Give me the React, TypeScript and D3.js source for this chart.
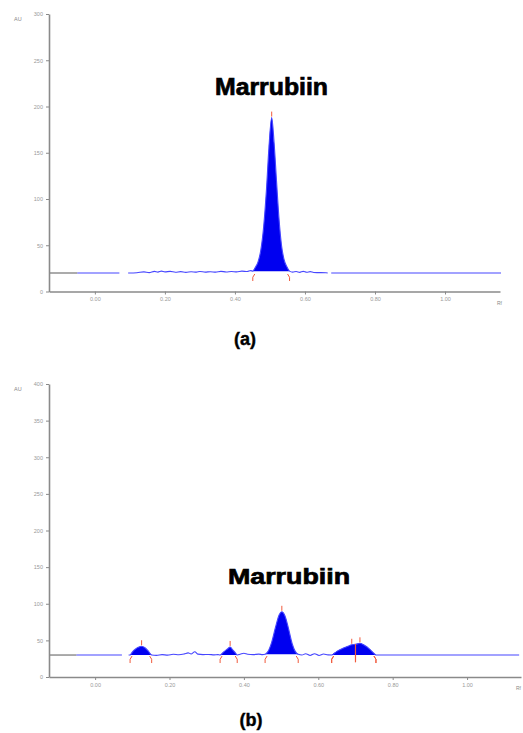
import React, { useEffect, useRef } from 'react';
import * as d3 from 'd3';

// trace points [Rf, AU]
const leadA: [number, number][] = [[-0.131, 20], [-0.05, 20]];
const traceA: [number, number][] = [
  [-0.05, 20], [0.07, 20],
];
const traceA2: [number, number][] = [
  [0.095, 20], [0.12, 20.3], [0.14, 21.2], [0.155, 20.4], [0.17, 21.8], [0.18, 21], [0.19, 22], [0.2, 21.2],
  [0.215, 21.8], [0.23, 20.8], [0.245, 21.5], [0.26, 20.7], [0.275, 21.4], [0.29, 20.9], [0.3, 21.7],
  [0.315, 21], [0.33, 21.4], [0.345, 20.9], [0.36, 21.8], [0.375, 21.1], [0.39, 21.6], [0.405, 21.2],
  [0.42, 22], [0.435, 21.6], [0.445, 22.6],
  [0.451, 22], [0.458, 26], [0.466, 32], [0.474, 45], [0.482, 70], [0.49, 110], [0.497, 155],
  [0.505, 188], [0.512, 160], [0.519, 118], [0.526, 78], [0.533, 50], [0.54, 35], [0.548, 27],
  [0.556, 22], [0.565, 21], [0.575, 21.6], [0.585, 20.7], [0.595, 21.8], [0.605, 20.8], [0.615, 21.5],
  [0.625, 20.5], [0.64, 20.4], [0.66, 20.2], [0.665, 20],
];
const traceA3: [number, number][] = [[0.675, 20], [1.16, 20]];
const peaksA = [{ start: 0.451, end: 0.556, apex: 0.505, top: 188 }];

const leadB: [number, number][] = [[-0.124, 30], [-0.05, 30]];
const traceB: [number, number][] = [[-0.05, 30], [0.072, 30]];
const traceB2: [number, number][] = [
  [0.09, 30], [0.094, 30], [0.1, 34], [0.108, 38], [0.116, 40.5], [0.125, 42], [0.134, 40],
  [0.142, 36], [0.148, 32], [0.152, 30],
  [0.165, 29.5], [0.18, 30.5], [0.195, 29.8], [0.21, 31], [0.225, 30.4], [0.24, 31.6], [0.25, 33],
  [0.258, 31.5], [0.268, 34.5], [0.276, 31.2], [0.29, 30.6], [0.305, 30.8], [0.32, 30.2], [0.33, 30.6],
  [0.336, 30], [0.345, 34], [0.355, 38], [0.363, 41], [0.37, 37], [0.377, 33], [0.382, 30],
  [0.39, 31], [0.4, 32.4], [0.41, 31], [0.425, 30.6], [0.44, 31.2], [0.45, 30.6],
  [0.457, 31], [0.465, 35], [0.475, 48], [0.485, 68], [0.495, 85], [0.502, 89], [0.51, 84],
  [0.52, 66], [0.53, 45], [0.538, 35], [0.546, 31],
  [0.556, 30], [0.566, 31.8], [0.578, 29.4], [0.59, 31.8], [0.602, 29.4], [0.614, 31.4], [0.626, 30.2],
  [0.636, 30], [0.65, 35], [0.665, 39], [0.68, 42], [0.69, 44], [0.7, 44.5], [0.712, 46],
  [0.725, 43], [0.738, 38], [0.748, 33], [0.755, 30], [1.14, 30],
];
const peaksB = [
  { start: 0.094, end: 0.152, apex: 0.125, top: 42 },
  { start: 0.336, end: 0.382, apex: 0.363, top: 41 },
  { start: 0.457, end: 0.546, apex: 0.502, top: 89 },
  { start: 0.636, end: 0.755, apex: 0.69, top: 44 },
  { start: 0.636, end: 0.755, apex: 0.712, top: 46 },
];
const splitB = [0.7];

const rfTicks = [0, 0.2, 0.4, 0.6, 0.8, 1.0];
const auTicksA = [0, 50, 100, 150, 200, 250, 300];
const auTicksB = [0, 50, 100, 150, 200, 250, 300, 350, 400];

interface PanelDef {
  xDomain: [number, number];
  xRange: [number, number];
  yDomain: [number, number];
  yRange: [number, number];
  yTicks: number[];
  lead: [number, number][];
  segments: [number, number][][];
  peaks: { start: number; end: number; apex: number; top: number }[];
  splits: number[];
  name: string;
  nameX: number;
  nameY: number;
  nameLen: number;
  nameSize: number;
  tag: string;
  tagX: number;
  tagY: number;
  rfX: number;
}

const App: React.FC = () => {
  const svgRef = useRef<SVGSVGElement | null>(null);

  useEffect(() => {
    const svg = d3.select(svgRef.current);
    svg.selectAll('*').remove();
    svg.append('rect').attr('width', 523).attr('height', 733).attr('fill', 'white');

    const panels: PanelDef[] = [
      {
        xDomain: [-0.131, 1.157], xRange: [49, 500], yDomain: [0, 300], yRange: [291.5, 14],
        yTicks: auTicksA, lead: leadA, segments: [traceA, traceA2, traceA3], peaks: peaksA, splits: [],
        name: 'Marrubiin', nameX: 215, nameY: 95, nameLen: 113, nameSize: 23,
        tag: '(a)', tagX: 245, tagY: 345, rfX: 497,
      },
      {
        xDomain: [-0.124, 1.145], xRange: [49, 521], yDomain: [0, 400], yRange: [677, 384],
        yTicks: auTicksB, lead: leadB, segments: [traceB, traceB2], peaks: peaksB, splits: splitB,
        name: 'Marrubiin', nameX: 228, nameY: 584, nameLen: 122, nameSize: 22,
        tag: '(b)', tagX: 251, tagY: 726, rfX: 516,
      },
    ];

    panels.forEach(p => {
      const x = d3.scaleLinear().domain(p.xDomain).range(p.xRange);
      const y = d3.scaleLinear().domain(p.yDomain).range(p.yRange);
      const g = svg.append('g');

      // filled peaks
      p.peaks.forEach(pk => {
        const pts = p.segments.flat().filter(d => d[0] >= pk.start && d[0] <= pk.end);
        const b0 = pts[0][1];
        const b1 = pts[pts.length - 1][1];
        const base = d3.scaleLinear().domain([pk.start, pk.end]).range([b0, b1]);
        g.append('path')
          .datum(pts)
          .attr('d', d3.area<[number, number]>()
            .x(d => x(d[0]))
            .y0(d => y(base(d[0])))
            .y1(d => y(d[1]))
            .curve(d3.curveMonotoneX))
          .attr('fill', '#0000f0');
      });

      // trace
      g.append('path')
        .datum(p.lead)
        .attr('d', d3.line<[number, number]>().x(d => x(d[0])).y(d => y(d[1])))
        .attr('fill', 'none')
        .attr('stroke', '#666')
        .attr('stroke-width', 1.1);
      p.segments.forEach(seg => {
        g.append('path')
          .datum(seg)
          .attr('d', d3.line<[number, number]>().x(d => x(d[0])).y(d => y(d[1])).curve(d3.curveMonotoneX))
          .attr('fill', 'none')
          .attr('stroke', '#4646ff')
          .attr('stroke-width', 1.1);
      });

      // red integration marks
      const red = '#f05a3c';
      p.peaks.forEach(pk => {
        g.append('line')
          .attr('x1', x(pk.apex)).attr('x2', x(pk.apex))
          .attr('y1', y(pk.top) - 1).attr('y2', y(pk.top) - 6)
          .attr('stroke', red).attr('stroke-width', 1);
        const yb = y(p.segments[p.segments.length - 1][0][1]);
        [pk.start, pk.end].forEach((v, i) => {
          const dir = i === 0 ? 1 : -1;
          g.append('path')
            .attr('d', `M${x(v) + dir * 2},${yb + 1} Q${x(v) - dir * 1},${yb + 4} ${x(v)},${yb + 8}`)
            .attr('fill', 'none')
            .attr('stroke', red).attr('stroke-width', 1);
        });
      });
      p.splits.forEach(v => {
        g.append('line')
          .attr('x1', x(v)).attr('x2', x(v))
          .attr('y1', y(45)).attr('y2', y(20))
          .attr('stroke', red).attr('stroke-width', 1.2);
      });

      // axes
      const axisColor = '#8a8a8a';
      const yAxis = g.append('g')
        .attr('transform', `translate(${p.xRange[0]},0)`)
        .call(d3.axisLeft(y).tickValues(p.yTicks).tickSize(3).tickSizeOuter(0).tickFormat(d3.format('d')));
      const xAxis = g.append('g')
        .attr('transform', `translate(0,${p.yRange[0]})`)
        .call(d3.axisBottom(x).tickValues(rfTicks).tickSize(3).tickSizeOuter(0).tickFormat(d3.format('.2f')));
      [yAxis, xAxis].forEach(ax => {
        ax.select('.domain').attr('stroke', axisColor).attr('stroke-width', 1.6);
        ax.selectAll('.tick line').attr('stroke', axisColor);
        ax.selectAll('.tick text')
          .attr('fill', '#999')
          .attr('font-size', 5.5)
          .attr('font-family', 'Liberation Sans, Arial, sans-serif');
      });

      g.append('text')
        .attr('x', 14).attr('y', p.yRange[1] + 7)
        .attr('font-size', 5.5).attr('fill', '#888')
        .attr('font-family', 'Liberation Sans, Arial, sans-serif')
        .text('AU');
      g.append('text')
        .attr('x', p.rfX).attr('y', p.yRange[0] + 13)
        .attr('font-size', 5).attr('fill', '#888')
        .attr('font-family', 'Liberation Sans, Arial, sans-serif')
        .text('Rf');

      g.append('text')
        .attr('x', p.nameX).attr('y', p.nameY)
        .attr('font-size', p.nameSize).attr('font-weight', 'bold')
        .attr('font-family', 'Liberation Sans, Arial, sans-serif')
        .attr('textLength', p.nameLen).attr('lengthAdjust', 'spacingAndGlyphs')
        .attr('fill', '#000').attr('stroke', '#000').attr('stroke-width', 0.7)
        .text(p.name);
      g.append('text')
        .attr('x', p.tagX).attr('y', p.tagY)
        .attr('text-anchor', 'middle')
        .attr('font-size', 18).attr('font-weight', 'bold')
        .attr('font-family', 'Liberation Sans, Arial, sans-serif')
        .attr('fill', '#000').attr('stroke', '#000').attr('stroke-width', 0.4)
        .text(p.tag);
    });
  }, []);

  return (
    <svg ref={svgRef} width={523} height={733} style={{ position: 'absolute', left: 0, top: 0 }} />
  );
};

export default App;
